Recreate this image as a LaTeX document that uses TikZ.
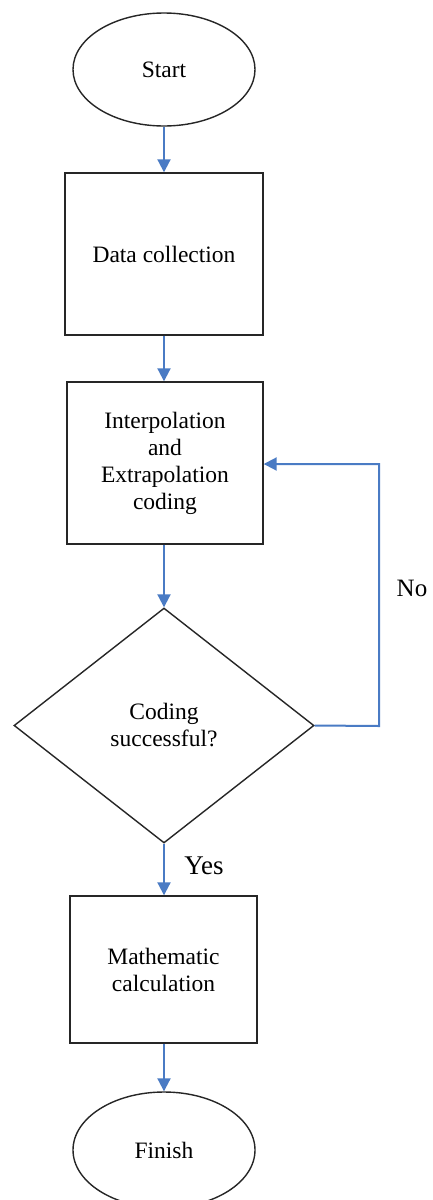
\documentclass[tikz,border=0pt]{standalone}
\usepackage{fontspec}
\setmainfont{Liberation Serif}
\usetikzlibrary{shapes.geometric,arrows.meta}
\definecolor{flowblue}{HTML}{4A7BC4}
\tikzset{
  base/.style={draw=black!85, line width=1.4pt, inner sep=0pt, align=center, font=\fontsize{23.5}{27}\selectfont},
  term/.style={base, ellipse},
  stepbox/.style={base, rectangle},
  decision/.style={base, diamond},
  flow/.style={draw=flowblue, line width=2pt, -{Triangle[length=13pt,width=13pt]}},
  lbl/.style={inner sep=0pt}
}
\begin{document}
\begin{tikzpicture}[x=1pt,y=-1pt]
\clip (0,0) rectangle (433,1200);
\fill[white] (0,0) rectangle (433,1200);
\node[term, minimum width=182pt, minimum height=113pt] (start) at (164,69.5) {Start};
\node[stepbox, minimum width=198pt, minimum height=162pt] (data) at (164,254) {Data collection};
\node[stepbox, minimum width=196pt, minimum height=162pt] (interp) at (165,463) {Interpolation\\and\\Extrapolation\\coding};
\node[decision, minimum width=300pt, minimum height=235pt] (dec) at (164,725.5) {Coding\\successful?};
\node[stepbox, minimum width=187pt, minimum height=147pt] (math) at (163.5,969.5) {Mathematic\\calculation};
\node[term, minimum width=182pt, minimum height=116pt] (finish) at (164,1150) {Finish};
\coordinate (loopa) at (379,726);
\coordinate (loopb) at (379,464);
\draw[flow] (start.south -| 164,0) -- (data.north -| 164,0);
\draw[flow] (data.south -| 164,0) -- (interp.north -| 164,0);
\draw[flow] (interp.south -| 164,0) -- (dec.north);
\draw[flow] (dec.south) -- (math.north -| 164,0);
\draw[flow] (math.south -| 164,0) -- (finish.north -| 164,0);
\draw[flow] (dec.east) -- (loopa) -- (loopb) -- (interp.east |- loopb);
\node[lbl, font=\fontsize{25}{28}\selectfont] (no) at (412,588) {No};
\node[lbl, font=\fontsize{27}{30}\selectfont] (yes) at (204,866) {Yes};
\end{tikzpicture}
\end{document}
